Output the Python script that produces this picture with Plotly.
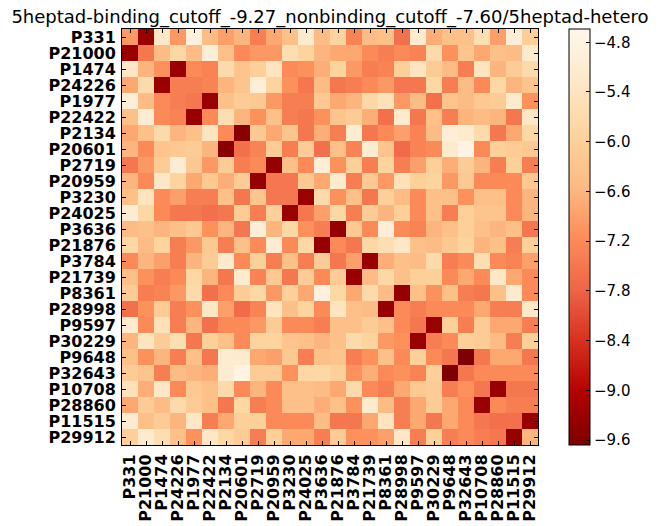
import plotly.graph_objects as go

labels = ["P331", "P21000", "P1474", "P24226", "P1977", "P22422", "P2134", "P20601",
          "P2719", "P20959", "P3230", "P24025", "P3636", "P21876", "P3784", "P21739",
          "P8361", "P28998", "P9597", "P30229", "P9648", "P32643", "P10708", "P28860",
          "P11515", "P29912"]

title_text = "5heptad-binding_cutoff_-9.27_nonbinding_cutoff_-7.60/5heptad-hetero"
cbar_ticks = [-4.8, -5.4, -6.0, -6.6, -7.2, -7.8, -8.4, -9.0, -9.6]

# energy matrix (rows top to bottom, columns left to right)
r00 = [-7.0, -9.35, -5.3, -7.0, -4.9, -6.5, -6.9, -6.6, -7.4, -6.8, -6.4, -5.2, -6.5, -5.9, -7.3, -6.5, -6.4, -7.6, -5.2, -6.7, -6.4, -6.4, -5.6, -6.9, -5.0, -6.0]
r01 = [-9.35, -7.5, -6.5, -5.8, -6.5, -5.0, -6.4, -7.2, -7.0, -7.0, -5.6, -5.9, -6.6, -6.8, -6.8, -7.2, -7.4, -7.2, -7.3, -5.7, -7.1, -6.3, -6.8, -6.4, -6.5, -5.2]
r02 = [-5.3, -6.6, -7.1, -9.35, -7.2, -7.3, -5.7, -6.3, -6.0, -5.4, -7.2, -7.1, -6.7, -5.9, -7.0, -7.4, -7.3, -6.0, -5.4, -6.1, -6.5, -7.4, -5.4, -6.6, -6.1, -5.7]
r03 = [-6.8, -5.7, -9.35, -7.4, -7.4, -7.3, -6.6, -6.3, -5.0, -5.9, -7.1, -7.5, -6.5, -7.5, -7.4, -7.2, -7.0, -7.5, -7.5, -5.8, -7.4, -6.5, -7.2, -5.8, -6.6, -6.3]
r04 = [-5.0, -6.5, -7.2, -7.4, -7.5, -9.35, -6.4, -6.1, -6.2, -7.0, -7.4, -7.4, -6.2, -6.8, -6.6, -5.8, -5.5, -7.0, -6.5, -7.6, -6.3, -6.5, -6.2, -6.1, -5.2, -7.1]
r05 = [-6.4, -5.1, -7.2, -7.3, -9.35, -7.2, -5.6, -6.6, -7.1, -6.4, -7.4, -7.5, -7.1, -6.3, -6.1, -6.7, -7.6, -5.2, -7.5, -6.4, -7.4, -6.6, -6.5, -6.6, -7.5, -5.3]
r06 = [-6.8, -6.4, -5.7, -6.6, -6.4, -5.4, -7.2, -9.55, -6.2, -6.8, -6.3, -7.5, -6.7, -7.4, -5.1, -7.5, -7.2, -6.9, -7.3, -6.5, -5.0, -5.2, -5.7, -7.5, -6.8, -5.8]
r07 = [-6.6, -7.2, -6.3, -6.2, -6.1, -6.6, -9.55, -7.6, -7.3, -6.1, -7.4, -6.1, -7.6, -6.4, -7.3, -5.1, -6.3, -7.7, -7.3, -7.2, -5.2, -4.8, -7.2, -6.0, -6.1, -6.2]
r08 = [-7.5, -7.0, -6.1, -5.1, -6.2, -7.0, -6.1, -7.4, -7.2, -9.4, -6.4, -7.2, -5.0, -7.1, -6.0, -7.4, -5.9, -7.4, -6.9, -6.0, -6.7, -6.1, -6.6, -7.4, -6.0, -7.4]
r09 = [-6.6, -7.2, -5.3, -5.9, -6.8, -6.2, -6.7, -6.1, -9.4, -7.5, -7.5, -6.2, -6.8, -5.2, -7.4, -6.2, -7.0, -5.5, -6.0, -5.9, -7.0, -6.2, -7.2, -7.2, -7.2, -6.2]
r10 = [-6.4, -5.4, -7.2, -6.9, -7.4, -7.4, -6.4, -7.5, -6.3, -7.5, -7.5, -9.35, -5.7, -7.1, -6.4, -7.5, -6.0, -6.5, -7.2, -6.4, -6.4, -7.1, -6.4, -6.4, -7.2, -6.6]
r11 = [-5.1, -5.8, -7.2, -7.5, -7.5, -7.6, -7.5, -6.1, -7.4, -6.0, -9.35, -7.5, -6.9, -5.8, -7.4, -6.1, -6.6, -6.0, -7.2, -6.4, -7.4, -6.0, -6.3, -6.3, -7.2, -6.6]
r12 = [-6.5, -6.4, -6.6, -6.4, -6.2, -7.1, -6.6, -7.5, -5.0, -6.6, -5.8, -7.1, -7.4, -9.4, -6.2, -7.2, -5.0, -7.2, -7.3, -6.6, -6.4, -6.0, -6.4, -6.6, -6.4, -7.5]
r13 = [-5.8, -6.5, -5.9, -7.4, -7.0, -6.2, -7.4, -6.4, -7.2, -5.1, -7.2, -5.8, -9.4, -7.2, -7.5, -5.8, -5.6, -5.3, -6.4, -6.5, -6.2, -5.9, -6.6, -6.4, -7.4, -6.0]
r14 = [-7.2, -6.6, -6.9, -7.4, -6.6, -6.1, -5.2, -7.2, -6.0, -7.4, -6.4, -7.4, -6.1, -7.5, -6.9, -9.35, -6.7, -6.4, -6.5, -5.7, -7.4, -7.2, -5.6, -7.2, -7.3, -6.9]
r15 = [-6.4, -7.1, -7.4, -7.2, -5.8, -6.6, -7.5, -5.2, -7.3, -6.2, -7.5, -6.1, -7.2, -6.1, -9.35, -6.5, -5.8, -6.4, -6.0, -6.0, -7.2, -6.8, -7.2, -5.3, -6.8, -7.2]
r16 = [-6.1, -7.4, -7.3, -7.0, -5.7, -7.6, -7.2, -6.1, -5.8, -7.0, -6.0, -6.8, -4.9, -5.8, -6.8, -5.7, -6.5, -9.4, -6.4, -7.1, -6.4, -7.4, -7.5, -6.4, -5.2, -7.2]
r17 = [-7.6, -7.1, -6.1, -7.4, -7.1, -5.3, -6.9, -7.7, -7.3, -5.4, -6.4, -5.9, -7.2, -5.4, -6.4, -6.5, -9.4, -7.2, -7.4, -7.2, -7.2, -7.2, -6.8, -7.4, -7.4, -5.3]
r18 = [-5.2, -7.2, -5.5, -7.4, -6.6, -7.6, -7.2, -7.2, -7.0, -6.1, -7.2, -7.2, -7.4, -6.4, -6.4, -6.1, -6.4, -7.2, -7.5, -9.35, -6.0, -7.4, -6.1, -6.8, -6.8, -7.4]
r19 = [-6.6, -5.4, -6.1, -5.6, -7.5, -6.0, -6.4, -7.2, -5.9, -5.9, -6.3, -6.4, -6.6, -6.4, -5.7, -5.9, -7.0, -7.1, -9.35, -7.4, -7.2, -6.0, -6.1, -6.5, -7.4, -6.0]
r20 = [-6.4, -7.1, -6.6, -7.4, -6.4, -7.5, -5.1, -5.2, -6.8, -6.9, -6.2, -7.4, -6.4, -6.3, -7.4, -7.1, -6.4, -7.2, -6.0, -7.2, -7.5, -9.66, -7.5, -6.8, -6.8, -7.5]
r21 = [-6.1, -6.3, -7.4, -6.5, -6.6, -6.7, -5.1, -4.8, -6.1, -6.1, -7.1, -5.8, -5.8, -6.0, -7.1, -6.7, -7.2, -7.1, -7.3, -6.0, -9.66, -7.5, -7.2, -7.2, -7.2, -7.2]
r22 = [-5.5, -6.7, -5.3, -7.2, -6.2, -6.4, -5.7, -7.2, -6.6, -7.2, -6.4, -6.4, -6.5, -6.8, -5.7, -7.2, -7.4, -6.8, -6.2, -6.1, -7.4, -7.1, -7.5, -9.35, -7.5, -7.5]
r23 = [-6.8, -6.1, -6.5, -5.7, -6.1, -6.4, -7.5, -5.8, -7.4, -7.2, -6.4, -6.4, -6.7, -6.4, -7.1, -5.2, -6.5, -7.4, -6.8, -6.1, -6.8, -7.2, -9.35, -7.2, -7.4, -7.4]
r24 = [-5.1, -6.4, -6.1, -6.6, -5.3, -7.4, -6.8, -6.0, -6.0, -7.2, -7.2, -7.2, -6.5, -7.5, -7.5, -6.8, -5.4, -7.4, -6.8, -7.5, -6.8, -7.2, -7.5, -7.6, -7.6, -9.35]
r25 = [-6.0, -5.2, -5.6, -6.4, -7.1, -5.3, -5.8, -6.1, -7.4, -6.0, -6.8, -6.8, -7.4, -6.1, -7.1, -7.1, -6.9, -5.3, -7.4, -6.0, -7.4, -7.2, -7.4, -7.5, -9.4, -6.6]

z = [r00, r01, r02, r03, r04, r05, r06, r07, r08, r09, r10, r11, r12,
     r13, r14, r15, r16, r17, r18, r19, r20, r21, r22, r23, r24, r25]

orrd_r = [[0.0, "#7f0000"], [0.125, "#b30000"], [0.25, "#d7301f"], [0.375, "#ef6548"],
          [0.5, "#fc8d59"], [0.625, "#fdbb84"], [0.75, "#fdd49e"], [0.875, "#fee8c8"],
          [1.0, "#fff7ec"]]

fig = go.Figure(go.Heatmap(
    z=z, x=labels, y=labels,
    colorscale=orrd_r, zmin=-9.66, zmax=-4.64,
    colorbar=dict(
        x=(569 - 122) / 416, xanchor="left", xref="paper", xpad=0,
        y=0.5, yanchor="middle", len=1.0, lenmode="fraction", ypad=0,
        thickness=21, outlinewidth=1, outlinecolor="black",
        tickvals=cbar_ticks, ticktext=[f"\u2212{abs(v):.1f}" for v in cbar_ticks],
        ticks="inside", ticklen=4, tickcolor="black",
        tickfont=dict(family="DejaVu Sans", size=15, color="black"),
    ),
    hoverongaps=False,
))

axis_common = dict(
    showline=True, linecolor="black", linewidth=1, mirror="ticks",
    ticks="inside", ticklen=4, tickcolor="black", showgrid=False, zeroline=False,
    tickmode="array", tickvals=labels, ticktext=labels, automargin=False,
    ticklabelstandoff=2,
    tickfont=dict(family="DejaVu Sans", size=16, color="black", weight="bold"),
)

# the page body adds an 8px offset; margins compensate so the plot lands at 122..538 x 29..445
fig.update_layout(
    width=659, height=526,
    margin=dict(l=114, r=129, t=21, b=89, autoexpand=False),
    paper_bgcolor="white", plot_bgcolor="white",
    title=dict(text=title_text, x=0.5, xref="paper", xanchor="center",
               y=1 - 9 / 526, yref="container", yanchor="middle",
               font=dict(family="DejaVu Sans", size=18, color="black")),
    xaxis=dict(**axis_common, tickangle=-90, type="category"),
    yaxis=dict(**axis_common, autorange="reversed", type="category"),
)

fig.write_html("out.html")
